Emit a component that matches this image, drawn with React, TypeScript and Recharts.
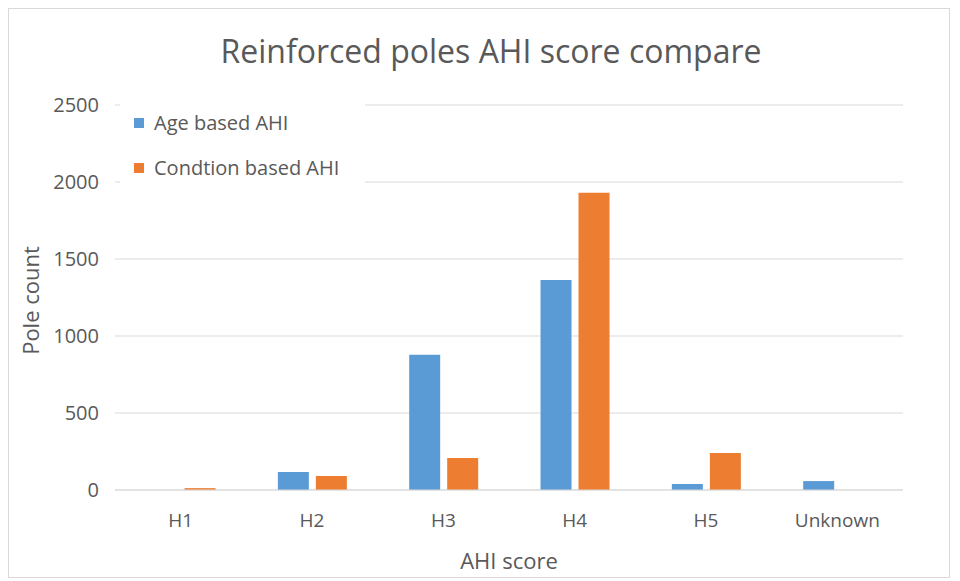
import { BarChart, Bar, XAxis, YAxis, CartesianGrid, Legend, Label } from 'recharts';

const CATEGORIES = ['H1', 'H2', 'H3', 'H4', 'H5', 'Unknown'];
const AGE_BASED = [0, 117, 878, 1364, 39, 58];
const CONDITION_BASED = [12, 91, 208, 1930, 240, 0];
const Y_TICKS = [0, 500, 1000, 1500, 2000, 2500];

const BLUE = '#5B9BD5';
const ORANGE = '#ED7D31';
const TEXT = '#595959';
const FONT = '"Open Sans", "Noto Sans", sans-serif';

const data = CATEGORIES.map((name, i) => ({
  name,
  age: AGE_BASED[i],
  cond: CONDITION_BASED[i],
}));

function LegendBox({ payload }: any) {
  return (
    <div style={{ background: '#fff', width: 245, height: 100, paddingTop: 5, boxSizing: 'border-box' }}>
      {(payload || []).map((p: any) => (
        <div
          key={p.value}
          style={{
            display: 'flex',
            alignItems: 'center',
            height: 45,
            color: TEXT,
            fontSize: 20,
            fontFamily: FONT,
            whiteSpace: 'nowrap',
          }}
        >
          <span style={{ width: 10, height: 10, background: p.color, marginLeft: 14, marginRight: 10 }} />
          {p.value}
        </div>
      ))}
    </div>
  );
}

export default function App() {
  return (
    <div
      style={{
        position: 'relative',
        width: 942,
        height: 570,
        border: '1px solid #d9d9d9',
        boxSizing: 'border-box',
        background: '#fff',
        fontFamily: FONT,
      }}
    >
      <div
        style={{
          position: 'absolute',
          left: 0,
          right: 0,
          top: 20,
          paddingLeft: 24,
          textAlign: 'center',
          fontSize: 32,
          color: TEXT,
          fontFamily: FONT,
        }}
      >
        Reinforced poles AHI score compare
      </div>
      <BarChart
        width={940}
        height={568}
        data={data}
        margin={{ top: 96, right: 46, left: 0, bottom: 0 }}
        barCategoryGap="24%"
        barGap={7}
      >
        <CartesianGrid vertical={false} stroke="#d9d9d9" />
        <XAxis
          dataKey="name"
          height={87}
          axisLine={{ stroke: '#d9d9d9' }}
          tickLine={false}
          tickMargin={18}
          tick={{ fill: TEXT, fontSize: 19, fontFamily: FONT }}
        >
          <Label
            content={({ viewBox }: any) => (
              <text
                x={viewBox.x + viewBox.width / 2}
                y={viewBox.y + 79}
                textAnchor="middle"
                fill={TEXT}
                fontSize={22}
                fontFamily={FONT}
              >
                AHI score
              </text>
            )}
          />
        </XAxis>
        <YAxis
          width={106}
          domain={[0, 2500]}
          ticks={Y_TICKS}
          axisLine={false}
          tickLine={false}
          tickMargin={10}
          tick={{ fill: TEXT, fontSize: 20, fontFamily: FONT }}
        >
          <Label
            content={({ viewBox }: any) => {
              const cx = 21;
              const cy = viewBox.y + viewBox.height / 2 + 3;
              return (
                <text
                  x={cx}
                  y={cy}
                  transform={`rotate(-90 ${cx} ${cy})`}
                  textAnchor="middle"
                  dominantBaseline="central"
                  fill={TEXT}
                  fontSize={22}
                  fontFamily={FONT}
                >
                  Pole count
                </text>
              );
            }}
          />
        </YAxis>
        <Legend
          layout="horizontal"
          verticalAlign="middle"
          align="center"
          content={<LegendBox />}
          wrapperStyle={{ position: 'absolute', left: 111, top: 86, width: 245 }}
        />
        <Bar dataKey="age" name="Age based AHI" fill={BLUE} isAnimationActive={false} />
        <Bar dataKey="cond" name="Condtion based AHI" fill={ORANGE} isAnimationActive={false} />
      </BarChart>
    </div>
  );
}
